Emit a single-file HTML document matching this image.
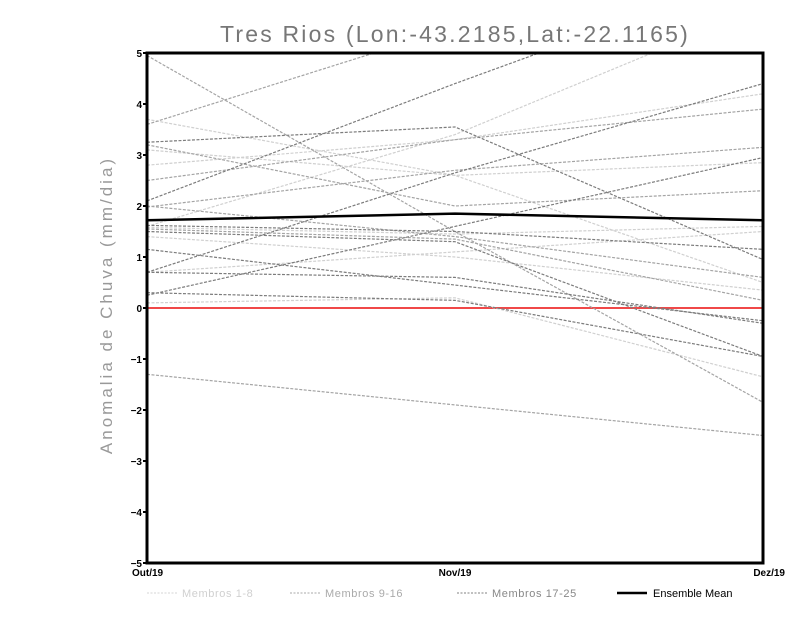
<!DOCTYPE html>
<html><head><meta charset="utf-8"><style>
body{margin:0;background:#fff;width:800px;height:618px;overflow:hidden;font-family:"Liberation Sans",sans-serif}
</style></head><body>
<svg id="chart" width="800" height="618" xmlns="http://www.w3.org/2000/svg">
<text x="455" y="42" text-anchor="middle" font-size="23" fill="#777" font-family="Liberation Sans, sans-serif" letter-spacing="2.2">Tres Rios (Lon:-43.2185,Lat:-22.1165)</text>
<text transform="translate(112,305) rotate(-90)" text-anchor="middle" font-size="17" fill="#999" letter-spacing="3">Anomalia de Chuva (mm/dia)</text>
<g id="series"></g>
<g id="axes"></g>
<g font-size="11">
<line x1="147" y1="593" x2="177" y2="593" stroke="#d4d4d4" stroke-dasharray="2,1.5"/>
<text x="182" y="597" fill="#d0d0d0" letter-spacing="0.6">Membros 1-8</text>
<line x1="290" y1="593" x2="320" y2="593" stroke="#a8a8a8" stroke-dasharray="2,1.5"/>
<text x="325" y="597" fill="#aaa" letter-spacing="0.6">Membros 9-16</text>
<line x1="457" y1="593" x2="487" y2="593" stroke="#808080" stroke-dasharray="2,1.5"/>
<text x="492" y="597" fill="#888" letter-spacing="0.6">Membros 17-25</text>
<line x1="617" y1="593" x2="647" y2="593" stroke="#000" stroke-width="2.5"/>
<text x="653" y="597" fill="#000">Ensemble Mean</text>
</g>
</svg>
<script>
const months=["Out/19","Nov/19","Dez/19"];
const yTicks=[-5,-4,-3,-2,-1,0,1,2,3,4,5];
const lightMembers=[[3.7,2.6,2.85],[2.8,3.3,4.2],[1.6,3.4,5.9],[1.58,1.45,1.6],[1.4,1.0,0.35],[0.7,1.1,1.5],[0.1,0.2,-1.35],[3.1,2.6,0.5]];
const midMembers=[[4.95,1.5,-1.85],[3.6,5.5,7.4],[2.5,3.3,3.9],[1.98,2.7,3.15],[3.2,2.0,2.3],[1.55,1.35,0.15],[-1.3,-1.9,-2.5],[2.0,1.4,0.6]];
const darkMembers=[[2.1,4.4,6.6],[3.25,3.55,0.95],[0.7,2.65,4.4],[0.25,1.6,2.95],[1.62,1.5,1.15],[1.5,1.3,-0.95],[1.15,0.45,-0.25],[0.7,0.6,-0.3],[0.3,0.15,-0.95]];
const ensembleMean=[1.72,1.85,1.72];
const NS="http://www.w3.org/2000/svg";
const L=147,R=763,T=53,B=563;
const xS=i=>L+i*(R-L)/(months.length-1);
const yS=v=>B-(v+5)*(B-T)/10;
const svg=document.getElementById('chart');
const ser=document.getElementById('series');
const ax=document.getElementById('axes');
const clip=document.createElementNS(NS,'clipPath');clip.setAttribute('id','pc');
const cr=document.createElementNS(NS,'rect');cr.setAttribute('x',L);cr.setAttribute('y',T);cr.setAttribute('width',R-L);cr.setAttribute('height',B-T);
clip.appendChild(cr);svg.appendChild(clip);
ser.setAttribute('clip-path','url(#pc)');
function line(vals,color,w,dash,name){
 const p=document.createElementNS(NS,'polyline');
 p.setAttribute('points',vals.map((v,i)=>xS(i)+','+yS(v)).join(' '));
 p.setAttribute('fill','none');p.setAttribute('stroke',color);p.setAttribute('stroke-width',w);
 if(dash)p.setAttribute('stroke-dasharray',dash);
 
 
 ser.appendChild(p);
}
const z=document.createElementNS(NS,'line');
z.setAttribute('x1',L);z.setAttribute('x2',R);z.setAttribute('y1',yS(0));z.setAttribute('y2',yS(0));
z.setAttribute('stroke','#f04848');z.setAttribute('stroke-width','2');


ser.appendChild(z);
lightMembers.forEach((m,i)=>line(m,'#d0d0d0',1.2,'3,1.5','member-light-'+(i+1)));
midMembers.forEach((m,i)=>line(m,'#a4a4a4',1.2,'3,1.5','member-mid-'+(i+1)));
darkMembers.forEach((m,i)=>line(m,'#7c7c7c',1.2,'3,1.5','member-dark-'+(i+1)));
line(ensembleMean,'#000',2.5,null,'ensemble-mean-line');
const fr=document.createElementNS(NS,'rect');
fr.setAttribute('x',L);fr.setAttribute('y',T);fr.setAttribute('width',R-L);fr.setAttribute('height',B-T);
fr.setAttribute('fill','none');fr.setAttribute('stroke','#000');fr.setAttribute('stroke-width','3');


ax.appendChild(fr);
yTicks.forEach(t=>{
 const tk=document.createElementNS(NS,'line');
 tk.setAttribute('x1',L-4);tk.setAttribute('x2',L);tk.setAttribute('y1',yS(t));tk.setAttribute('y2',yS(t));tk.setAttribute('stroke','#000');tk.setAttribute('stroke-width','2');
 
 
 ax.appendChild(tk);
 const tx=document.createElementNS(NS,'text');
 tx.setAttribute('x',L-5);tx.setAttribute('y',yS(t)+4);tx.setAttribute('text-anchor','end');
 tx.setAttribute('font-size','10');tx.setAttribute('font-weight','bold');
 tx.textContent=t<0?'\u2212'+(-t):String(t);
 
 
 ax.appendChild(tx);
});
months.forEach((m,i)=>{
 const tx=document.createElementNS(NS,'text');
 tx.setAttribute('x',xS(i));tx.setAttribute('y',B+13);
 tx.setAttribute('text-anchor',i==0?'start':(i==months.length-1?'end':'middle'));
 if(i==0)tx.setAttribute('x',xS(i)-15);
 if(i==months.length-1)tx.setAttribute('x',xS(i)+22);
 tx.setAttribute('font-size','10');tx.setAttribute('font-weight','bold');
 tx.textContent=m;
 
 
 ax.appendChild(tx);
});
</script>
</body></html>
